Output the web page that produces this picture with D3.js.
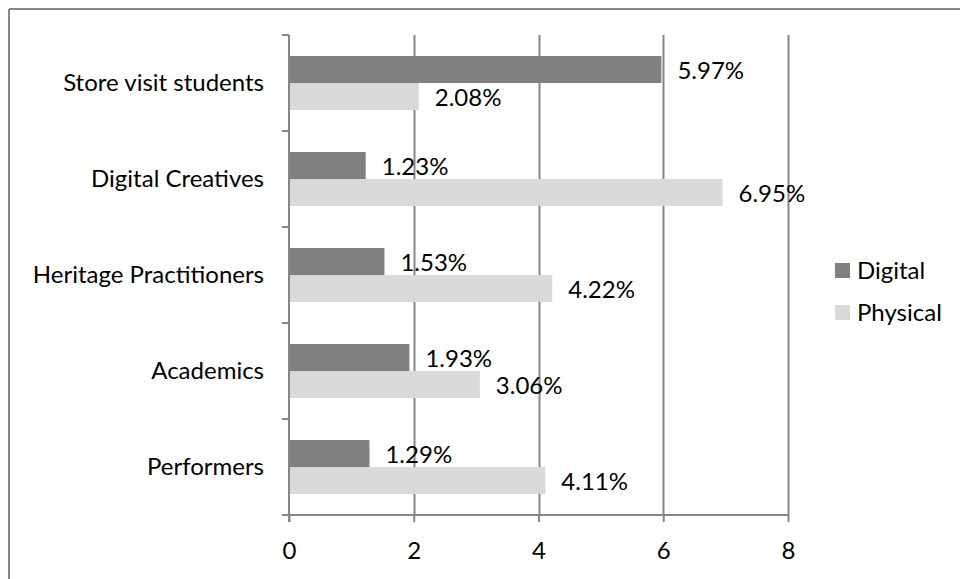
<!DOCTYPE html>
<html>
<head>
<meta charset="utf-8">
<script src="https://cdn.jsdelivr.net/npm/d3@7"></script>
<style>
  html, body { margin: 0; padding: 0; background: #fff; }
  svg { display: block; }
  text { font-family: Lato, "Open Sans", sans-serif; fill: #000; }
</style>
</head>
<body>
<svg id="chart" width="960" height="579"></svg>
<script>
// Share of visits by user group
const categories = ["Store visit students", "Digital Creatives", "Heritage Practitioners", "Academics", "Performers"];
const seriesNames = ["Digital", "Physical"];
const digitalValues = [5.97, 1.23, 1.53, 1.93, 1.29];
const physicalValues = [2.08, 6.95, 4.22, 3.06, 4.11];
const xTicks = [0, 2, 4, 6, 8];
const seriesColors = ["#808080", "#d9d9d9"];

const rows = categories.map((c, i) => ({ category: c, values: [digitalValues[i], physicalValues[i]] }));

const svg = d3.select("#chart");
const W = 960, H = 579;
const plot = { left: 289, right: 788, top: 35, bottom: 515 };
const fontSize = 24;
const axisColor = "#868686";

// Outer frame (top and left edges)
svg.append("line").attr("x1", 9).attr("x2", W).attr("y1", 9).attr("y2", 9)
  .attr("stroke", axisColor).attr("stroke-width", 2);
svg.append("line").attr("x1", 9).attr("x2", 9).attr("y1", 9).attr("y2", H)
  .attr("stroke", axisColor).attr("stroke-width", 2);

const x = d3.scaleLinear().domain([0, 8]).range([plot.left, plot.right]);
const y = d3.scaleBand().domain(categories).range([plot.top, plot.bottom]).paddingInner(0).paddingOuter(0);
const inner = d3.scaleBand().domain(seriesNames).range([0, y.bandwidth()]).paddingInner(0).paddingOuter(0.78);

// Vertical gridlines
svg.append("g").selectAll("line").data(xTicks.filter(t => t > 0)).join("line")
  .attr("x1", d => Math.round(x(d)) + 0.5).attr("x2", d => Math.round(x(d)) + 0.5)
  .attr("y1", plot.top).attr("y2", plot.bottom)
  .attr("stroke", axisColor).attr("stroke-width", 2);

// Bars
const groups = svg.append("g").selectAll("g").data(rows).join("g")
  .attr("transform", d => `translate(0,${y(d.category)})`);

groups.selectAll("rect").data(d => d.values.map((v, i) => ({ v, s: seriesNames[i], i }))).join("rect")
  .attr("x", x(0))
  .attr("y", d => inner(d.s))
  .attr("width", d => x(d.v) - x(0))
  .attr("height", inner.bandwidth())
  .attr("fill", d => seriesColors[d.i]);

// Value labels
groups.selectAll("text").data(d => d.values.map((v, i) => ({ v, s: seriesNames[i], i }))).join("text")
  .attr("x", d => x(d.v) + 16)
  .attr("y", d => inner(d.s) + inner.bandwidth() / 2 + 1)
  .attr("dy", "0.35em")
  .attr("font-size", fontSize)
  .text(d => d.v.toFixed(2) + "%");

// X axis
const xAxis = svg.append("g").attr("transform", `translate(0,${plot.bottom})`)
  .call(d3.axisBottom(x).tickValues(xTicks).tickSize(7).tickPadding(20).tickFormat(d3.format("d")));
xAxis.select(".domain").attr("stroke", axisColor).attr("stroke-width", 2)
  .attr("d", `M${plot.left - 7},0H${plot.right + 1}`);
xAxis.selectAll(".tick line").attr("stroke", axisColor).attr("stroke-width", 2);
xAxis.selectAll(".tick text").attr("font-size", fontSize).attr("font-family", "Lato, sans-serif").attr("fill", "#000");

// Y axis with boundary ticks between categories
const yAxisG = svg.append("g");
yAxisG.append("line").attr("x1", plot.left).attr("x2", plot.left)
  .attr("y1", plot.top).attr("y2", plot.bottom + 7)
  .attr("stroke", axisColor).attr("stroke-width", 2);
const boundaries = categories.map(c => y(c)).concat([plot.bottom]);
yAxisG.selectAll("line.tk").data(boundaries).join("line").attr("class", "tk")
  .attr("x1", plot.left - 7).attr("x2", plot.left)
  .attr("y1", d => d).attr("y2", d => d)
  .attr("stroke", axisColor).attr("stroke-width", 2);
yAxisG.selectAll("text").data(categories).join("text")
  .attr("x", 264)
  .attr("y", d => y(d) + y.bandwidth() / 2)
  .attr("dy", "0.35em")
  .attr("text-anchor", "end")
  .attr("font-size", fontSize)
  .text(d => d);

// Legend
const legend = svg.append("g").attr("transform", "translate(835,263)");
const li = legend.selectAll("g").data(seriesNames).join("g")
  .attr("transform", (d, i) => `translate(0,${i * 42})`);
li.append("rect").attr("width", 15).attr("height", 15).attr("fill", (d, i) => seriesColors[i]);
li.append("text").attr("x", 22).attr("y", 7.5).attr("dy", "0.35em")
  .attr("font-size", fontSize).text(d => d);
</script>
</body>
</html>
